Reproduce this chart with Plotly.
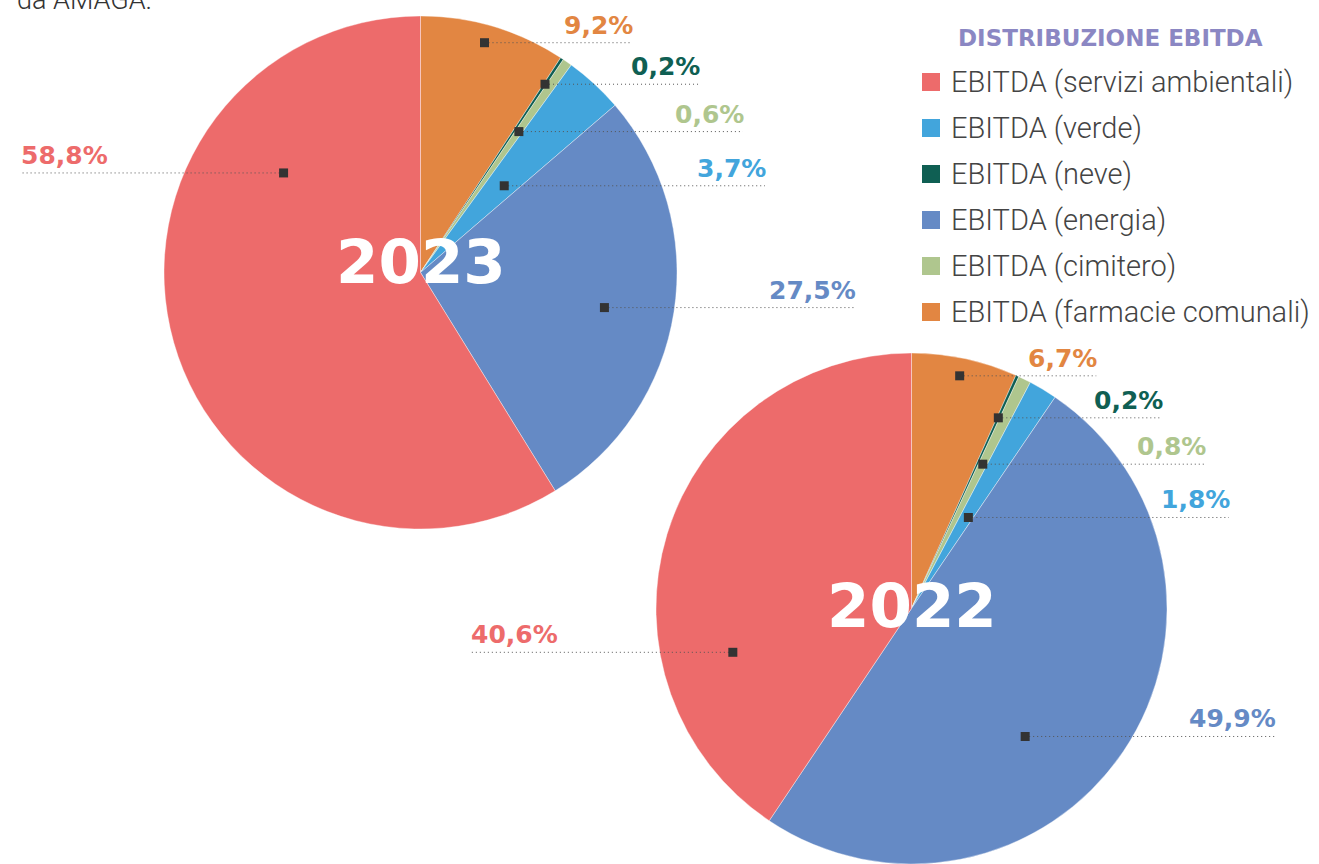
import math
import plotly.graph_objects as go

W, H = 1319, 864

# ---------------- data ----------------
categories = [
    "EBITDA (farmacie comunali)",
    "EBITDA (neve)",
    "EBITDA (cimitero)",
    "EBITDA (verde)",
    "EBITDA (energia)",
    "EBITDA (servizi ambientali)",
]
values_2023 = [9.2, 0.2, 0.6, 3.7, 27.5, 58.8]
values_2022 = [6.7, 0.2, 0.8, 1.8, 49.9, 40.6]
years = ["2023", "2022"]
legend_order = [
    "EBITDA (servizi ambientali)",
    "EBITDA (verde)",
    "EBITDA (neve)",
    "EBITDA (energia)",
    "EBITDA (cimitero)",
    "EBITDA (farmacie comunali)",
]
legend_title = "DISTRIBUZIONE EBITDA"
intro_text = "da AMAGA."

# ---------------- styles / layout ----------------
colors = {
    "EBITDA (servizi ambientali)": "#ED6B6B",
    "EBITDA (verde)": "#42A5DC",
    "EBITDA (neve)": "#0F5F53",
    "EBITDA (energia)": "#658AC5",
    "EBITDA (cimitero)": "#AFC68E",
    "EBITDA (farmacie comunali)": "#E28642",
}
DISPLAY_FONT = "DejaVu Sans"
TEXT_FONT = "Roboto"

# pie geometry in pixels: centre, radius
pies = [
    dict(cx=420.5, cy=272.5, R=256.5, year_dy=-11),
    dict(cx=911.5, cy=608.5, R=255.5, year_dy=-3),
]
# label placement per slice: (fraction along slice angle, radius fraction, line end x in radii)
label_layout = [
    [(0.47, 0.93, 0.825), (0.5, 0.88, 1.086), (0.5, 0.67, 1.257),
     (0.6, 0.47, 1.343), (0.52, 0.73, 1.694), (0.745, 0.66, -1.554)],
    [(0.485, 0.93, 0.723), (0.5, 0.82, 0.98), (0.5, 0.63, 1.148),
     (0.66, 0.42, 1.242), (0.58, 0.67, 1.421), (0.29, 0.72, -1.721)],
]


def px(x):
    return x / W


def py(y):
    return 1 - y / H


fig = go.Figure()
shapes = []
annotations = []

for vals, year, geo, lay in zip([values_2023, values_2022], years, pies, label_layout):
    cx, cy, R = geo["cx"], geo["cy"], geo["R"]
    x0, x1 = max(cx - R, 0), min(cx + R, W)
    y0, y1 = max(cy - R, 0), min(cy + R, H)
    fig.add_trace(go.Pie(
        labels=categories,
        values=vals,
        sort=False,
        direction="clockwise",
        rotation=0,
        textinfo="none",
        hoverinfo="label+percent",
        showlegend=False,
        marker=dict(colors=[colors[c] for c in categories],
                    line=dict(color="rgba(255,255,255,0.55)", width=0.7)),
        domain=dict(x=[px(x0), px(x1)], y=[py(y1), py(y0)]),
    ))
    total = sum(vals)
    start = 0.0
    for cat, v, (t, rf, ex) in zip(categories, vals, lay):
        span = v / total * 360
        ang = math.radians(start + t * span)
        start += span
        mx = cx + rf * R * math.sin(ang)
        my = cy - rf * R * math.cos(ang)
        lx = cx + ex * R
        shapes.append(dict(type="line", xref="paper", yref="paper", layer="above",
                           x0=px(mx), x1=px(lx), y0=py(my), y1=py(my),
                           line=dict(color="#555555", width=1, dash="1px,3px")))
        shapes.append(dict(type="rect", xref="paper", yref="paper", layer="above",
                           x0=px(mx - 4.5), x1=px(mx + 4.5), y0=py(my - 4.5), y1=py(my + 4.5),
                           fillcolor="#333333", line=dict(width=0)))
        label = f"{v:.1f}%".replace(".", ",")
        annotations.append(dict(
            x=px(lx), y=py(my), xref="paper", yref="paper",
            xanchor="right" if ex > 0 else "left", yanchor="bottom",
            text=f"<b>{label}</b>", showarrow=False, yshift=1,
            xshift=3 if ex > 0 else -3,
            font=dict(family=DISPLAY_FONT, size=25, color=colors[cat]),
        ))
    annotations.append(dict(
        x=px(cx), y=py(cy + geo["year_dy"]), xref="paper", yref="paper",
        xanchor="center", yanchor="middle", text=f"<b>{year}</b>", showarrow=False,
        font=dict(family=DISPLAY_FONT, size=61, color="#FFFFFF"),
    ))

# manual legend
annotations.append(dict(
    x=px(1110), y=py(38), xref="paper", yref="paper", xanchor="center", yanchor="middle",
    text=f"<b>{legend_title}</b>", showarrow=False,
    font=dict(family=DISPLAY_FONT, size=23, color="#8B87C3"),
))
for i, cat in enumerate(legend_order):
    ry = 82 + i * 46
    shapes.append(dict(type="rect", xref="paper", yref="paper", layer="above",
                       x0=px(922), x1=px(940), y0=py(ry - 9), y1=py(ry + 9),
                       fillcolor=colors[cat], line=dict(width=0)))
    annotations.append(dict(
        x=px(949), y=py(ry), xref="paper", yref="paper", xanchor="left", yanchor="middle",
        text=cat, showarrow=False,
        font=dict(family=TEXT_FONT, size=29, color="#444444", weight=300),
    ))

annotations.append(dict(
    x=px(15), y=py(18), xref="paper", yref="paper", xanchor="left", yanchor="bottom",
    text=intro_text, showarrow=False,
    font=dict(family=TEXT_FONT, size=27, color="#333333", weight=300),
))

fig.update_layout(
    width=W, height=H,
    margin=dict(l=0, r=0, t=0, b=0),
    paper_bgcolor="white", plot_bgcolor="white",
    shapes=shapes, annotations=annotations,
    showlegend=False,
)

fig.write_html("out.html", config={"displayModeBar": False},
               post_script="document.body.style.margin='0';")
